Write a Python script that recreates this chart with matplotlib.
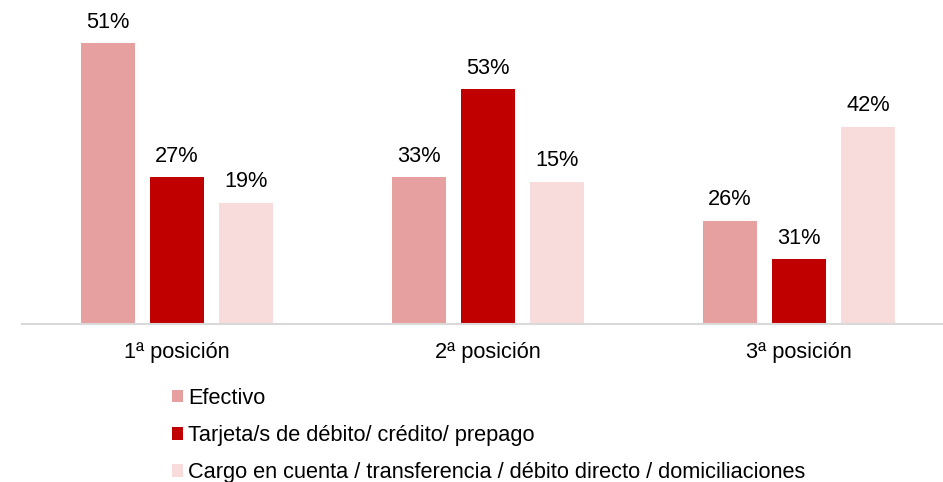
import matplotlib
matplotlib.use("Agg")
import matplotlib.pyplot as plt
import numpy as np
from matplotlib.patches import Patch

plt.rcParams['font.family'] = ['Liberation Sans', 'DejaVu Sans']

categories = ["1ª posición", "2ª posición", "3ª posición"]
series_names = ["Efectivo",
                "Tarjeta/s de débito/ crédito/ prepago",
                "Cargo en cuenta / transferencia / débito directo / domiciliaciones"]
# bar heights as drawn in the picture
efectivo = [51.0, 26.7, 18.8]
tarjeta = [26.7, 42.7, 11.8]
cargo = [22.1, 25.9, 35.9]
# data labels as printed
efectivo_lbl = ["51%", "33%", "26%"]
tarjeta_lbl = ["27%", "53%", "31%"]
cargo_lbl = ["19%", "15%", "42%"]

colors = ["#E6A09F", "#C00000", "#F8DCDC"]
FS = 15.7

fig = plt.figure(figsize=(9.43, 4.82), dpi=100)
ax = fig.add_axes([22/943, 1 - 324.3/482, 920/943, 324.3/482])

x = np.arange(len(categories))
w = 54/311
step = 69/311
series = [efectivo, tarjeta, cargo]
labels = [efectivo_lbl, tarjeta_lbl, cargo_lbl]
for i, (vals, lbls, c) in enumerate(zip(series, labels, colors)):
    pos = x + (i - 1) * step
    bars = ax.bar(pos, vals, width=w, color=c, label=series_names[i], zorder=2)
    for b, l in zip(bars, lbls):
        ax.annotate(l, (b.get_x() + b.get_width()/2, b.get_height()),
                    xytext=(0, 7.5), textcoords="offset points",
                    ha="center", va="bottom", fontsize=FS, color="#000000",
                    annotation_clip=False)

ax.set_xlim(-0.498, 2.46)
ax.set_ylim(0, 58.9)
ax.set_yticks([])
ax.set_xticks(x)
ax.set_xticklabels(categories, fontsize=FS)
ax.tick_params(axis='x', length=0, pad=13)
for s in ["top", "right", "left"]:
    ax.spines[s].set_visible(False)
ax.spines["bottom"].set_color("#D9D9D9")
ax.spines["bottom"].set_linewidth(1.5)

handles = [Patch(facecolor=c, edgecolor='none') for c in colors]
fig.legend(handles, series_names, loc="upper left",
           bbox_to_anchor=(172/943, 1 - 388/482), frameon=False,
           fontsize=FS, handlelength=0.5, handleheight=0.5,
           handletextpad=0.25, labelspacing=0.74, borderaxespad=0,
           borderpad=0)

fig.savefig("out.png", dpi=100)
